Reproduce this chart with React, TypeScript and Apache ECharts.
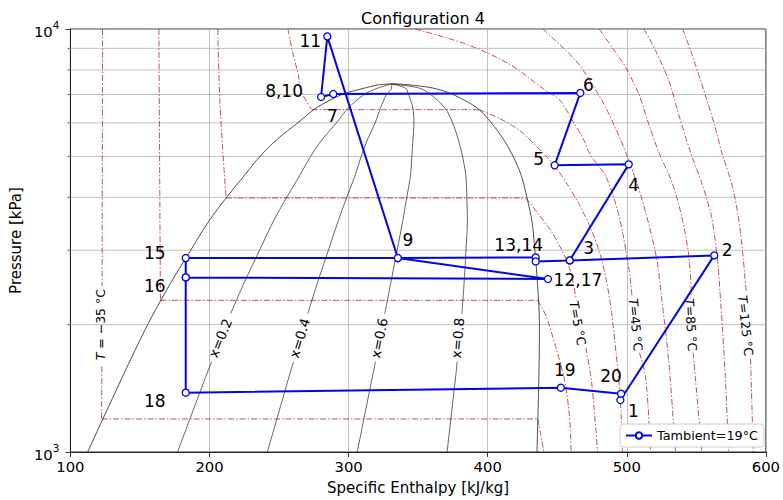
import React, { useEffect, useRef } from "react";
import * as echarts from "echarts";

// ---------- data ----------
const FONT = "DejaVu Sans, Liberation Sans, sans-serif";

// saturation dome (CO2), pressure in kPa, enthalpy in kJ/kg
const satP = [1000, 1500, 2000, 2500, 3000, 3500, 4000, 4500, 5000, 5500, 6000, 6500, 7000, 7250, 7380, 7417];
const satLiquidH = [112.4, 137.2, 155.5, 171.8, 186.5, 199.2, 212.3, 224.9, 236.3, 249.0, 263.5, 276.5, 295.2, 311.5, 321.5, 331.0];
const satVaporH = [435.4, 436.8, 437.2, 435.8, 433.9, 431.9, 428.2, 424.2, 418.3, 411.1, 402.6, 392.6, 375.1, 360.7, 343.0, 331.0];

// constant quality lines [h, P]; null = gap for the inline label
const quality02 = [[177.0, 1000], [197.1, 1500], [201.5, 1635], null, [215.2, 2123], [224.6, 2500], [236.0, 3000], [245.7, 3500], [255.5, 4000], [264.8, 4500], [272.7, 5000], [281.4, 5500], [291.3, 6000], [299.7, 6500], [311.2, 7000], [320.9, 7250], [331.0, 7417]];
const quality04 = [[241.6, 1000], [257.0, 1500], [260.4, 1635], null, [270.7, 2123], [277.4, 2500], [285.5, 3000], [292.3, 3500], [298.7, 4000], [304.6, 4500], [309.1, 5000], [313.8, 5500], [319.1, 6000], [322.9, 6500], [327.2, 7000], [330.9, 7250], [331.0, 7417]];
const quality06 = [[306.2, 1000], [317.0, 1500], [319.3, 1635], null, [326.0, 2123], [330.2, 2500], [334.9, 3000], [338.8, 3500], [341.8, 4000], [344.5, 4500], [345.5, 5000], [346.3, 5500], [347.0, 6000], [346.2, 6500], [343.1, 7000], [340.8, 7250], [331.0, 7417]];
const quality08 = [[370.8, 1000], [376.9, 1500], [378.1, 1635], null, [381.5, 2123], [383.0, 2500], [384.4, 3000], [385.4, 3500], [385.0, 4000], [384.3, 4500], [381.9, 5000], [378.7, 5500], [374.8, 6000], [369.4, 6500], [359.1, 7000], [350.8, 7250], [331.0, 7417]];

// isotherms [h, P]; null separates sections / label gaps
const isoM35 = [[123.1, 10000], [122.8, 2463], null, [122.6, 1594], [122.4, 1197], null, [122.4, 1197], [436.0, 1197], null, [436.0, 1197], [438.1, 1099], [440.4, 1000]];
const isoM15 = [[163.6, 10000], [164.7, 2283], null, [164.7, 2283], [436.1, 2283], null, [436.1, 2283], [442.1, 2092], [448.8, 1776], [455.2, 1482], [458.8, 1214], [460.0, 1000]];
const iso5 = [[205.9, 10000], [207.4, 6806], [209.5, 5185], [211.9, 3985], null, [211.9, 3985], [427.4, 3985], null, [427.4, 3985], [437.4, 3620], [445.9, 3318], [453.1, 3008], [458.8, 2728], [463.1, 2354], [463.8, 2291], null, [470.6, 1765], [474.3, 1498], [476.6, 1259], [479.0, 1000]];
const iso25 = [[256.4, 10000], [259.5, 8887], [263.8, 7798], [265.9, 7118], [273.6, 6447], null, [273.6, 6447], [393.8, 6447], null, [393.8, 6447], [408.8, 6138], [423.1, 5749], [433.8, 5328], [443.1, 4963], [448.1, 4752], [457.4, 4285], [465.9, 3842], [474.5, 3354], [480.9, 2928], [485.2, 2555], [488.8, 2170], [492.4, 1698], [495.2, 1366], [496.9, 1000]];
const iso45 = [[348.1, 10000], [385.0, 9196], [415.9, 8249], [440.9, 7187], [451.6, 6806], [461.1, 6062], [468.3, 5534], [474.3, 5010], [485.0, 4481], [494.5, 3601], [501.6, 2698], [503.8, 2328], null, [509.1, 1717], [513.6, 1498], [517.1, 1000]];
const iso65 = [[439.7, 10000], [451.6, 9196], [463.6, 8403], [473.1, 7589], [483.8, 6622], [492.4, 5780], [500.2, 5018], [508.8, 4170], [515.9, 3447], [521.6, 2849], [525.2, 2291], [530.2, 1635], [535.0, 1000]];
const iso85 = [[480.2, 10000], [489.7, 9032], [499.3, 8103], [508.8, 6994], [515.9, 5941], [523.1, 5101], [532.6, 4332], [539.5, 3601], [544.5, 2928], [546.7, 2328], null, [547.7, 1717], [549.3, 1498], [554.0, 1000]];
const iso105 = [[512.4, 10000], [520.7, 8887], [530.2, 7549], [537.4, 6273], [545.9, 5101], [553.8, 4332], [560.9, 3601], [565.2, 2849], [567.4, 2291], [570.9, 1498], [573.1, 1000]];
const iso125 = [[540.2, 10000], [546.9, 8696], [556.4, 6994], [563.6, 5844], [568.3, 5101], [575.2, 4332], [580.2, 3601], [583.8, 2849], [585.9, 2380], null, [589.0, 1662], [590.9, 1000]];

// inline labels of the isolines
const isoLabelTexts = ["{i|T} = −35 °C", "{i|T}=5 °C", "{i|T}=45 °C", "{i|T}=85 °C", "{i|T}=125 °C"];
const isoLabelH = [121.9, 464.7, 506.4, 546.1, 585.4];
const isoLabelP = [2000, 2018, 2000, 2000, 1989];
const isoLabelAngle = [90, -79.5, -84.6, -86.4, -84];
const qualityLabelTexts = ["x=0.2", "x=0.4", "x=0.6", "x=0.8"];
const qualityLabelH = [207.6, 264.7, 321.9, 378.3];
const qualityLabelP = [1860, 1860, 1860, 1860];
const qualityLabelAngle = [67.7, 73, 78.8, 85];

// cycle state points (index = state number - 1)
const stateH = [495.4, 562.9, 459.0, 501.4, 448.1, 466.6, 289.0, 280.2, 335.4, 280.2, 284.7, 443.3, 434.5, 434.5, 182.9, 182.9, 443.3, 182.9, 452.6, 495.9];
const stateP = [1327, 2916, 2838, 4786, 4762, 7060, 7020, 6906, 2874, 6906, 9605, 2564, 2884, 2822, 2874, 2587, 2564, 1381, 1419, 1374];
const cyclePath = [3, 2, 1, 20, 19, 18, 16, 15, 9, 13, 14, 3, 4, 5, 6, 7, 8, 11, 9, 12, 16];
const pointLabelTexts = ["1", "2", "3", "4", "5", "6", "7", "8,10", "9", "11", "12,17", "13,14", "15", "16", "18", "19", "20"];
const pointLabelStates = [1, 2, 3, 4, 5, 6, 7, 8, 9, 11, 12, 13, 15, 16, 18, 19, 20];
const seriesName = "Tambient=19°C";

const xTickValues = [100, 200, 300, 400, 500, 600];
const yMinorValues = [2000, 3000, 4000, 5000, 6000, 7000, 8000, 9000];

// ---------- layout ----------
const labelDx = [13, 13, 19, 5, -16, 8, -1, -37, 10, -17, 30, -17, -31, -31, -31, 4, -10];
const labelDy = [11, -5, -12, 21, -6, -8, 22, -6, -18, 5, 1, -12, -5, 9, 8, -18, -18];

const BLUE = "#0505e0";
const RED = "#b3262a";
const GRID = "#b0b0b0";

function splitSegments(arr: any[]) {
  const segs: any[] = [];
  let cur: any[] = [];
  for (const p of arr) {
    if (p === null) {
      if (cur.length) segs.push(cur);
      cur = [];
    } else cur.push(p);
  }
  if (cur.length) segs.push(cur);
  return segs;
}

function lineSeries(data: any[], color: string, width: number, type: any, z: number) {
  return {
    type: "line",
    data,
    symbol: "none",
    showSymbol: false,
    smooth: data.length > 2 ? 0.3 : false,
    silent: true,
    z,
    lineStyle: { color, width, type },
    emphasis: { disabled: true },
  };
}

export default function App() {
  const ref = useRef<HTMLDivElement>(null);

  useEffect(() => {
    if (!ref.current) return;
    const chart = echarts.init(ref.current, undefined, { renderer: "svg" });

    const series: any[] = [];
    // minor y grid lines
    yMinorValues.forEach((v) => {
      series.push(lineSeries([[xTickValues[0], v], [xTickValues[xTickValues.length - 1], v]], GRID, 0.8, "solid", 1));
    });
    // dome
    const dome: any[] = satLiquidH.map((h, i) => [h, satP[i]]);
    for (let i = satVaporH.length - 2; i >= 0; i--) dome.push([satVaporH[i], satP[i]]);
    series.push(lineSeries(dome, "#222", 0.8, "solid", 3));
    [quality02, quality04, quality06, quality08].forEach((q) =>
      splitSegments(q).forEach((s) => series.push(lineSeries(s, "#222", 0.7, "solid", 3)))
    );
    [isoM35, isoM15, iso5, iso25, iso45, iso65, iso85, iso105, iso125].forEach((iso) =>
      splitSegments(iso).forEach((s) => series.push(lineSeries(s, RED, 0.8, [6, 2, 1.5, 2], 2)))
    );
    // cycle
    series.push({
      type: "line",
      name: seriesName,
      data: cyclePath.map((n) => [stateH[n - 1], stateP[n - 1]]),
      symbol: "circle",
      symbolSize: 7,
      showSymbol: true,
      smooth: false,
      z: 10,
      lineStyle: { color: BLUE, width: 2 },
      itemStyle: { color: "#ffffff", borderColor: BLUE, borderWidth: 1.3 },
      emphasis: { disabled: true },
    });

    const option: any = {
      animation: false,
      backgroundColor: "#ffffff",
      textStyle: { fontFamily: FONT },
      title: {
        text: "Configuration 4",
        left: 418,
        top: 5,
        textAlign: "center",
        textStyle: { fontFamily: FONT, fontSize: 16, fontWeight: "normal", color: "#000" },
      },
      grid: {
        left: 67,
        top: 29,
        width: 701,
        height: 423,
        show: true,
        borderColor: "#000",
        borderWidth: 0.8,
        backgroundColor: "transparent",
      },
      legend: {
        data: [seriesName],
        left: 620,
        top: 424,
        padding: [5, 6, 5, 5],
        itemWidth: 26,
        itemHeight: 8,
        borderColor: "#cccccc",
        borderWidth: 1,
        borderRadius: 3,
        backgroundColor: "#ffffff",
        textStyle: { fontFamily: FONT, fontSize: 12.8, color: "#000" },
        z: 20,
      },
      xAxis: {
        type: "value",
        min: xTickValues[0],
        max: xTickValues[xTickValues.length - 1],
        interval: 100,
        name: "Specific Enthalpy [kJ/kg]",
        nameLocation: "middle",
        nameGap: 28,
        nameTextStyle: { fontFamily: FONT, fontSize: 15, color: "#000" },
        axisLine: { show: true, lineStyle: { color: "#000", width: 0.8 } },
        axisTick: { show: true, length: 5, lineStyle: { color: "#000", width: 0.8 } },
        axisLabel: { fontFamily: FONT, fontSize: 14.8, color: "#000", margin: 7 },
        splitLine: { show: true, lineStyle: { color: GRID, width: 0.8 } },
      },
      yAxis: {
        type: "log",
        logBase: 10,
        min: 1000,
        max: 10000,
        name: "Pressure [kPa]",
        nameLocation: "middle",
        nameGap: 40,
        nameTextStyle: { fontFamily: FONT, fontSize: 15, color: "#000" },
        axisLine: { show: true, lineStyle: { color: "#000", width: 0.8 } },
        axisTick: { show: true, length: 5, lineStyle: { color: "#000", width: 0.8 } },
        axisLabel: {
          margin: 11,
          formatter: (v: number) => `{b|10}{e|${Math.round(Math.log10(v))}}`,
          rich: {
            b: { fontFamily: FONT, fontSize: 14.8, color: "#000", lineHeight: 20, verticalAlign: "bottom" },
            e: { fontFamily: FONT, fontSize: 10.5, color: "#000", lineHeight: 10, verticalAlign: "top" },
          },
        },
        splitLine: { show: true, lineStyle: { color: GRID, width: 0.8 } },
      },
      series,
    };
    chart.setOption(option);

    // graphic overlays positioned through the axes
    const graphics: any[] = [];
    const left = chart.convertToPixel({ gridIndex: 0 } as any, [xTickValues[0], 1000]) as any;
    yMinorValues.forEach((v) => {
      const y = chart.convertToPixel({ yAxisIndex: 0 } as any, v) as any;
      graphics.push({
        type: "line",
        shape: { x1: left[0] - 3, y1: y, x2: left[0], y2: y },
        style: { stroke: "#000", lineWidth: 0.6 },
        silent: true,
      });
    });
    isoLabelTexts.forEach((t, i) => {
      const p = chart.convertToPixel({ gridIndex: 0 } as any, [isoLabelH[i], isoLabelP[i]]) as any;
      graphics.push({
        type: "text",
        x: p[0],
        y: p[1],
        rotation: (isoLabelAngle[i] * Math.PI) / 180,
        silent: true,
        z: 5,
        style: {
          text: t,
          fill: "#000",
          fontFamily: FONT,
          fontSize: 12.5,
          align: "center",
          verticalAlign: "middle",
          rich: { i: { fontFamily: FONT, fontSize: 12.5, fontStyle: "italic", fill: "#000" } },
        },
      });
    });
    qualityLabelTexts.forEach((t, i) => {
      const p = chart.convertToPixel({ gridIndex: 0 } as any, [qualityLabelH[i], qualityLabelP[i]]) as any;
      graphics.push({
        type: "text",
        x: p[0],
        y: p[1],
        rotation: (qualityLabelAngle[i] * Math.PI) / 180,
        silent: true,
        z: 5,
        style: { text: t, fill: "#000", fontFamily: FONT, fontSize: 13.5, align: "center", verticalAlign: "middle" },
      });
    });
    pointLabelTexts.forEach((t, i) => {
      const n = pointLabelStates[i];
      const p = chart.convertToPixel({ gridIndex: 0 } as any, [stateH[n - 1], stateP[n - 1]]) as any;
      graphics.push({
        type: "text",
        x: p[0] + labelDx[i],
        y: p[1] + labelDy[i],
        silent: true,
        z: 12,
        style: { text: t, fill: "#000", fontFamily: FONT, fontSize: 17, align: "center", verticalAlign: "middle" },
      });
    });
    chart.setOption({ graphic: graphics });

    return () => chart.dispose();
  }, []);

  return (
    <div
      ref={ref}
      style={{ position: "fixed", left: 0, top: 0, width: 783, height: 500, background: "#fff" }}
    />
  );
}
